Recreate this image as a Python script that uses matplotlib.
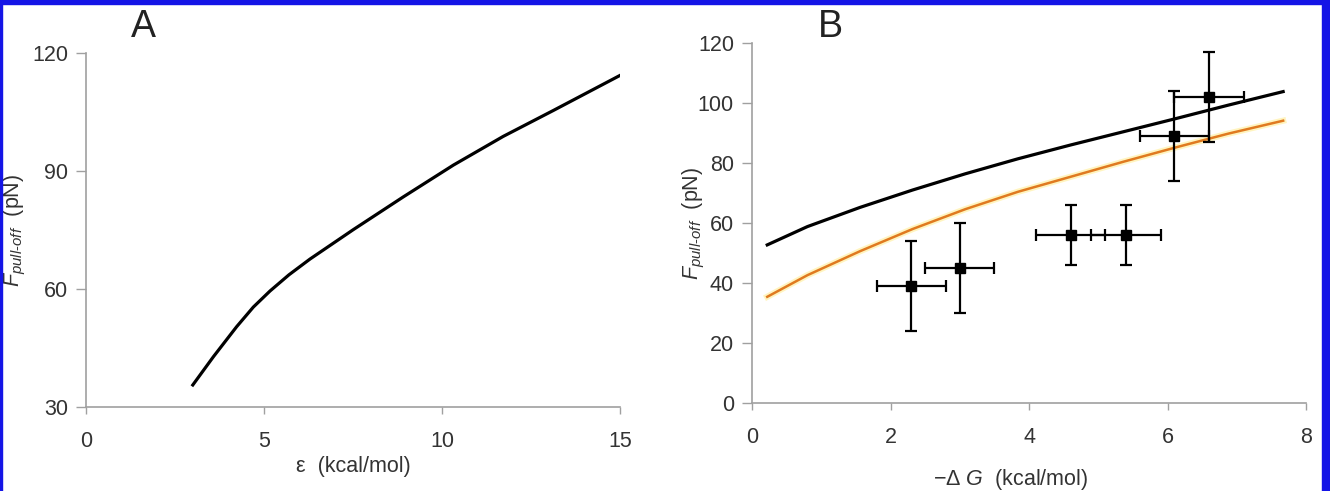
import numpy as np
import matplotlib.pyplot as plt
from matplotlib.patches import Rectangle

plt.rcParams['font.family'] = ['Liberation Sans', 'DejaVu Sans']
plt.rcParams['mathtext.fontset'] = 'custom'
plt.rcParams['mathtext.rm'] = 'Liberation Sans'
plt.rcParams['mathtext.it'] = 'Liberation Sans:italic'

# panel A: model curve
eps = [3.0, 3.58, 4.23, 4.7, 5.17, 5.7, 6.29, 7.51, 8.91, 10.32, 11.72, 13.13, 15.0]
f_eps = [35.6, 42.8, 50.4, 55.4, 59.5, 63.6, 67.6, 75.1, 83.4, 91.5, 98.8, 105.4, 114.3]

# panel B: model curves
dg_curve = [0.22, 0.80, 1.56, 2.32, 3.08, 3.84, 4.60, 5.36, 6.12, 6.88, 7.67]
f_black = [52.7, 58.8, 65.2, 71.0, 76.4, 81.4, 86.0, 90.4, 94.8, 99.3, 103.8]
f_orange = [35.4, 42.6, 50.6, 58.0, 64.6, 70.4, 75.4, 80.4, 85.2, 89.8, 94.1]

# panel B: measurements
dg_pts = [2.3, 3.0, 4.6, 5.4, 6.1, 6.6]
f_pts = [39, 45, 56, 56, 89, 102]
dg_err = [0.5, 0.5, 0.5, 0.5, 0.5, 0.5]
f_err = [15, 15, 10, 10, 15, 15]

label_col = '#333333'
spine_col = '#a0a0a0'
fs = 15.5

fig = plt.figure(figsize=(13.3, 4.91), dpi=100)

def style(ax):
    for s in ['top', 'right']:
        ax.spines[s].set_visible(False)
    for s in ['left', 'bottom']:
        ax.spines[s].set_color(spine_col)
        ax.spines[s].set_linewidth(1.2)
    ax.tick_params(axis='both', colors=spine_col, labelcolor=label_col,
                   labelsize=fs, width=1.0)
    ax.tick_params(axis='y', pad=6, length=7)
    ax.tick_params(axis='x', pad=12, length=5)

ylab = r'$F_{\mathit{pull}\text{-}\mathit{off}}$  (pN)'

# panel A
axA = fig.add_axes([86 / 1330, (491 - 407) / 491, (620 - 86) / 1330, (407 - 53) / 491])
axA.plot(eps, f_eps, color='black', linewidth=2.3)
axA.set_xlim(0, 15)
axA.set_ylim(30, 120)
axA.set_xticks([0, 5, 10, 15])
axA.set_yticks([30, 60, 90, 120])
style(axA)
axA.set_xlabel('ε  (kcal/mol)', fontsize=fs, color=label_col)
axA.set_ylabel(ylab, fontsize=fs, color=label_col)
axA.xaxis.set_label_coords(0.5, -0.138)
axA.yaxis.set_label_coords(-0.109, 0.5)
fig.text(143 / 1330, 1 - 27 / 491, 'A', fontsize=27, ha='center', va='center', color='#222222')

# panel B
axB = fig.add_axes([752 / 1330, (491 - 403) / 491, (1306 - 752) / 1330, (403 - 43) / 491])
axB.plot(dg_curve, f_orange, color='#fff2b0', linewidth=4.5, alpha=0.8)
axB.plot(dg_curve, f_orange, color='#e07a20', linewidth=1.8)
axB.plot(dg_curve, f_black, color='black', linewidth=2.3)
axB.errorbar(dg_pts, f_pts, xerr=dg_err, yerr=f_err, fmt='s', color='black',
             markersize=7, elinewidth=1.6, capsize=4, capthick=1.6)
axB.set_xlim(0, 8)
axB.set_ylim(0, 120)
axB.set_xticks([0, 2, 4, 6, 8])
axB.set_yticks([0, 20, 40, 60, 80, 100, 120])
style(axB)
axB.set_xlabel(r'−Δ $\mathit{G}$  (kcal/mol)', fontsize=fs, color=label_col)
axB.set_ylabel(ylab, fontsize=fs, color=label_col)
axB.xaxis.set_label_coords(0.466, -0.178)
axB.yaxis.set_label_coords(-0.081, 0.5)
fig.text(830 / 1330, 1 - 27 / 491, 'B', fontsize=27, ha='center', va='center', color='#222222')

# blue frame
blue = '#1414e6'
fig.patches.append(Rectangle((0, 1 - 4 / 491), 1, 4 / 491, transform=fig.transFigure, color=blue, zorder=10))
fig.patches.append(Rectangle((0, 0), 2 / 1330, 1, transform=fig.transFigure, color=blue, zorder=10))
fig.patches.append(Rectangle((1 - 8 / 1330, 0), 8 / 1330, 1, transform=fig.transFigure, color=blue, zorder=10))

fig.savefig('out.png', dpi=100)
